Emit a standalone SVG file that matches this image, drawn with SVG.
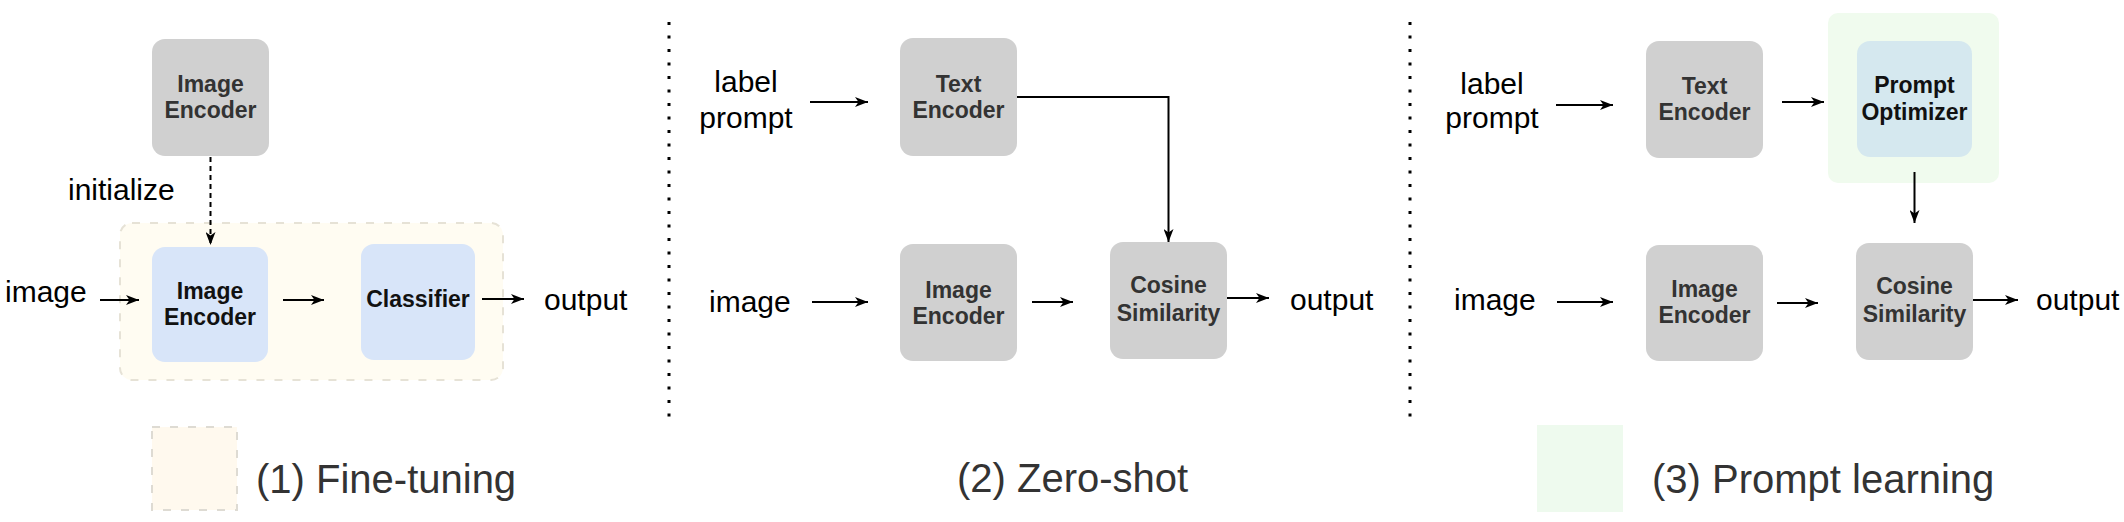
<svg xmlns="http://www.w3.org/2000/svg" width="2124" height="522" viewBox="0 0 2124 522">
<defs>
<marker id="arr" viewBox="0 0 13 10" refX="13" refY="5" markerWidth="13" markerHeight="10" markerUnits="userSpaceOnUse" orient="auto">
<path d="M0,0 L13,5 L0,10 L3.5,5 Z" fill="#000"/>
</marker>
<style>
text{font-family:"Liberation Sans",Arial,Helvetica,sans-serif}
.lbl{font-size:30px;fill:#000}
.nt{font-size:23px;font-weight:bold;fill:#333;text-anchor:middle}
.nb{font-size:23px;font-weight:bold;fill:#111;text-anchor:middle}
.gray{fill:#d0d0d0}
.blue{fill:#d8e5f9}
.opt{fill:#d5e8ef}
.cap{font-size:40px;fill:#333}
.edge{stroke:#000;stroke-width:2;fill:none;marker-end:url(#arr)}
.sep{stroke:#000;stroke-width:3;stroke-dasharray:3 10.5}
</style>
</defs>
<rect width="2124" height="522" fill="#fff"/>

<g id="separators">
<line class="sep" x1="669" y1="22" x2="669" y2="427"/>
<line class="sep" x1="1410" y1="22" x2="1410" y2="427"/>
</g>

<!-- Panel 1 -->
<g id="ft-container"><rect x="120" y="223" width="383" height="157" rx="12" fill="#fffcf2" stroke="#e6e2d6" stroke-width="2" stroke-dasharray="8 10"/></g>
<g id="ft-pretrained-encoder"><rect class="gray" x="152" y="39" width="117" height="117" rx="13"/><text class="nt" x="210.5" y="92">Image</text><text class="nt" x="210.5" y="118">Encoder</text></g>
<g id="ft-initialize"><text class="lbl" x="68" y="200">initialize</text></g>
<g id="ft-image"><text class="lbl" x="5" y="302">image</text></g>
<g id="ft-encoder"><rect class="blue" x="152" y="247" width="116" height="115" rx="13"/><text class="nb" x="210" y="299">Image</text><text class="nb" x="210" y="325">Encoder</text></g>
<g id="ft-classifier"><rect class="blue" x="361" y="244" width="114" height="116" rx="13"/><text class="nb" x="418" y="307">Classifier</text></g>
<g id="ft-output"><text class="lbl" x="544" y="310">output</text></g>
<g id="ft-legend"><rect x="152" y="427" width="85" height="83" fill="#fff9ee" stroke="#dedbd3" stroke-width="2" stroke-dasharray="8 10"/><text class="cap" x="256" y="493">(1) Fine-tuning</text></g>

<!-- Panel 2 -->
<g id="zs-label"><text class="lbl" text-anchor="middle" x="746" y="92">label</text><text class="lbl" text-anchor="middle" x="746" y="128">prompt</text></g>
<g id="zs-text-encoder"><rect class="gray" x="900" y="38" width="117" height="118" rx="13"/><text class="nt" x="958.5" y="92">Text</text><text class="nt" x="958.5" y="118">Encoder</text></g>
<g id="zs-image"><text class="lbl" x="709" y="312">image</text></g>
<g id="zs-image-encoder"><rect class="gray" x="900" y="244" width="117" height="117" rx="13"/><text class="nt" x="958.5" y="298">Image</text><text class="nt" x="958.5" y="324">Encoder</text></g>
<g id="zs-cosine"><rect class="gray" x="1110" y="242" width="117" height="117" rx="13"/><text class="nt" x="1168.5" y="293">Cosine</text><text class="nt" x="1168.5" y="321">Similarity</text></g>
<g id="zs-output"><text class="lbl" x="1290" y="310">output</text></g>
<g id="zs-legend"><text class="cap" x="957" y="492">(2) Zero-shot</text></g>

<!-- Panel 3 -->
<g id="pl-container"><rect x="1828" y="13" width="171" height="170" rx="10" fill="#f0fbee"/></g>
<g id="pl-label"><text class="lbl" text-anchor="middle" x="1492" y="94">label</text><text class="lbl" text-anchor="middle" x="1492" y="128">prompt</text></g>
<g id="pl-text-encoder"><rect class="gray" x="1646" y="41" width="117" height="117" rx="13"/><text class="nt" x="1704.5" y="94">Text</text><text class="nt" x="1704.5" y="120">Encoder</text></g>
<g id="pl-optimizer"><rect class="opt" x="1857" y="41" width="115" height="116" rx="13"/><text class="nb" x="1914.5" y="93">Prompt</text><text class="nb" x="1914.5" y="120">Optimizer</text></g>
<g id="pl-image"><text class="lbl" x="1454" y="310">image</text></g>
<g id="pl-image-encoder"><rect class="gray" x="1646" y="245" width="117" height="116" rx="13"/><text class="nt" x="1704.5" y="297">Image</text><text class="nt" x="1704.5" y="323">Encoder</text></g>
<g id="pl-cosine"><rect class="gray" x="1856" y="243" width="117" height="117" rx="13"/><text class="nt" x="1914.5" y="294">Cosine</text><text class="nt" x="1914.5" y="322">Similarity</text></g>
<g id="pl-output"><text class="lbl" x="2036" y="310">output</text></g>
<g id="pl-legend"><rect x="1537" y="425" width="86" height="87" fill="#eefaee"/><text class="cap" x="1652" y="493">(3) Prompt learning</text></g>

<g id="connectors">
<line class="edge" x1="210.5" y1="157" x2="210.5" y2="245" stroke-dasharray="5 4"/>
<line class="edge" x1="100" y1="300" x2="139" y2="300"/>
<line class="edge" x1="283" y1="300" x2="324" y2="300"/>
<line class="edge" x1="482" y1="299" x2="524" y2="299"/>

<line class="edge" x1="810" y1="102" x2="868" y2="102"/>
<path class="edge" d="M1017,97 H1168.5 V242"/>
<line class="edge" x1="812" y1="302" x2="868" y2="302"/>
<line class="edge" x1="1032" y1="302" x2="1073" y2="302"/>
<line class="edge" x1="1227" y1="298" x2="1269" y2="298"/>

<line class="edge" x1="1556" y1="105" x2="1613" y2="105"/>
<line class="edge" x1="1782" y1="102" x2="1824" y2="102"/>
<line class="edge" x1="1914.5" y1="172" x2="1914.5" y2="223"/>
<line class="edge" x1="1557" y1="302" x2="1613" y2="302"/>
<line class="edge" x1="1777" y1="303" x2="1818" y2="303"/>
<line class="edge" x1="1973" y1="300" x2="2018" y2="300"/>
</g>
</svg>
